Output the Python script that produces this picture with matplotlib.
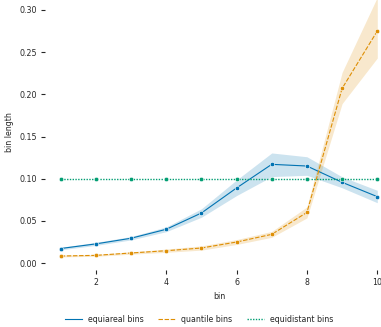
import matplotlib
matplotlib.use("Agg")
import matplotlib.pyplot as plt
from matplotlib.lines import Line2D

# Bin index
bins = [1, 2, 3, 4, 5, 6, 7, 8, 9, 10]

# Mean bin length and confidence band per binning scheme
equiareal = [0.0172, 0.0227, 0.0294, 0.0400, 0.0593, 0.0890, 0.1170, 0.1150, 0.0957, 0.0787]
equiareal_lo = [0.0157, 0.0209, 0.0274, 0.0372, 0.0543, 0.0800, 0.1025, 0.1040, 0.0892, 0.0715]
equiareal_hi = [0.0187, 0.0245, 0.0314, 0.0428, 0.0643, 0.0985, 0.1305, 0.1260, 0.1022, 0.0862]

quantile = [0.0083, 0.0091, 0.0119, 0.0146, 0.0178, 0.0249, 0.0340, 0.0600, 0.2070, 0.2750]
quantile_lo = [0.0073, 0.0080, 0.0105, 0.0127, 0.0153, 0.0220, 0.0305, 0.0535, 0.1890, 0.2430]
quantile_hi = [0.0093, 0.0102, 0.0133, 0.0165, 0.0203, 0.0278, 0.0375, 0.0665, 0.2260, 0.3150]

equidistant = [0.10, 0.10, 0.10, 0.10, 0.10, 0.10, 0.10, 0.10, 0.10, 0.10]

series_names = ["equiareal bins", "quantile bins", "equidistant bins"]
xticks = [2, 4, 6, 8, 10]
yticks = [0.00, 0.05, 0.10, 0.15, 0.20, 0.25, 0.30]

colors = ["#0173b2", "#de8f05", "#029e73"]
dashes = [None, (4, 1.5), (1, 1)]
widths = [0.8, 0.8, 1.0]

fs = 5.7
txt_color = "#262626"
plt.rcParams["font.family"] = ["DejaVu Sans"]

fig = plt.figure(figsize=(3.81, 3.27), dpi=100)
W, H = 381.0, 327.0
ax = fig.add_axes([44.9 / W, 56.8 / H, 348.2 / W, 277.1 / H])

values = [equiareal, quantile, equidistant]
bands = [(equiareal_lo, equiareal_hi), (quantile_lo, quantile_hi), None]

for name, ys, band, c, d, lw in zip(series_names, values, bands, colors, dashes, widths):
    if band is not None:
        ax.fill_between(bins, band[0], band[1], color=c, alpha=0.2, linewidth=0)
    ln, = ax.plot(bins, ys, color=c, lw=lw, marker="o", markersize=3.2,
                  markeredgecolor="white", markeredgewidth=0.4, label=name)
    if d is not None:
        ln.set_dashes(d)

ax.set_xlim(0.55, 10.45)
ax.set_ylim(-0.0085, 0.32)
ax.set_xticks(xticks)
ax.set_yticks(yticks)
ax.set_yticklabels([f"{v:.2f}" for v in yticks])
for s in ax.spines.values():
    s.set_visible(False)
ax.tick_params(axis="both", labelsize=fs, length=3.2, width=0.8, pad=2.2,
               colors=txt_color)
ax.set_xlabel("bin", fontsize=fs, color=txt_color, labelpad=3.5)
ax.set_ylabel("bin length", fontsize=fs, color=txt_color, labelpad=4)

# Legend handles without markers
leg_handles = []
for c, d, lw in zip(colors, dashes, widths):
    h = Line2D([], [], color=c, lw=lw)
    if d is not None:
        h.set_dashes(d)
    leg_handles.append(h)
fig.legend(leg_handles, series_names, loc="center", ncol=3, frameon=False,
           fontsize=fs, bbox_to_anchor=(199 / W, 1 - 319 / H),
           handlelength=2.2, handletextpad=0.7, columnspacing=1.85,
           labelcolor=txt_color)

fig.savefig("out.png", dpi=100)
